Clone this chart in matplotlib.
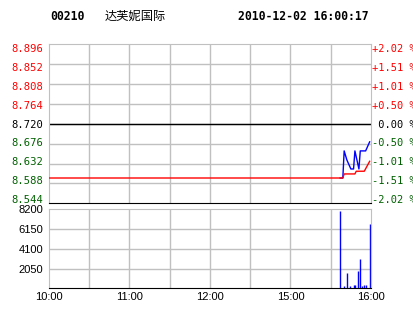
import matplotlib
matplotlib.use("Agg")
import matplotlib.pyplot as plt
import matplotlib.transforms as mtransforms
import numpy as np

# session minutes: 0 = 10:00, 150 = 12:30 / 14:30 (lunch break skipped), 240 = 16:00
code = "00210"
name = "达芙妮国际"
stamp = "2010-12-02 16:00:17"
prev_close = 8.720

# trade price only exists from the first trade on
price_min = [217, 219, 220, 222, 225, 227, 228, 231, 232, 236, 239]
price_val = [8.60, 8.60, 8.66, 8.64, 8.62, 8.62, 8.66, 8.62, 8.66, 8.66, 8.68]

avg_min = [0, 219, 220, 228, 229, 235, 239]
avg_val = [8.600, 8.600, 8.609, 8.609, 8.615, 8.615, 8.637]

vol_min = [217, 220, 222, 224, 227, 228, 230, 232, 233, 235, 236, 239]
vol_val = [8000, 250, 1590, 250, 300, 380, 1800, 3040, 260, 380, 300, 6670]

price_ticks = [8.544, 8.588, 8.632, 8.676, 8.720, 8.764, 8.808, 8.852, 8.896]
vol_ticks = [2050, 4100, 6150, 8200]
time_ticks = [0, 60, 120, 180, 240]
time_labels = ["10:00", "11:00", "12:00", "15:00", "16:00"]

RED = "#FF0000"
GREEN = "#006000"
GRID = "#C0C0C0"
BLUE = "#0000FF"
mono = "DejaVu Sans Mono"

fig = plt.figure(figsize=(4.14, 3.14), dpi=100)
fig.patch.set_facecolor("white")

# header
fig.text(50 / 414, 1 - 16 / 314, code, family=mono, fontweight="bold", fontsize=8.3, va="center")
fig.text(105 / 414, 1 - 16 / 314, name, family=["Noto Sans CJK SC", "DejaVu Sans"], fontsize=8.8, va="center")
fig.text(238 / 414, 1 - 16 / 314, stamp, family=mono, fontweight="bold", fontsize=8.3, va="center")

# price panel
ax = fig.add_axes([49 / 414, 1 - 203.3 / 314, 322 / 414, 159 / 314])
ax.set_xlim(0, 240)
ax.set_ylim(price_ticks[0], price_ticks[-1])
for t in range(30, 240, 30):
    ax.axvline(t, color=GRID, lw=1)
for p in price_ticks[1:-1]:
    ax.axhline(p, color=GRID, lw=1)
ax.axhline(prev_close, color="black", lw=1)
ax.plot(price_min, price_val, color=BLUE, lw=1, zorder=3)
ax.plot(avg_min, avg_val, color=RED, lw=1, zorder=4)
for s in ["top", "left", "right"]:
    ax.spines[s].set_color(GRID)
ax.spines["bottom"].set_color("black")
ax.set_xticks([])
ax.set_yticks(price_ticks)
ax.set_yticklabels(["%.3f" % p for p in price_ticks], family=mono, fontsize=7.6)
ax.tick_params(axis="y", length=0, pad=4)


def label_color(p):
    if p > prev_close + 1e-9:
        return RED
    if p < prev_close - 1e-9:
        return GREEN
    return "black"


def squeeze(labels):
    # labels sit slightly inside the panel: bottom one up, top one down
    n = len(labels)
    for i, lab in enumerate(labels):
        dy = (4 - i * 7.4 / (n - 1)) / 100
        lab.set_transform(lab.get_transform() + mtransforms.ScaledTranslation(0, dy, fig.dpi_scale_trans))


for lab, p in zip(ax.get_yticklabels(), price_ticks):
    lab.set_color(label_color(p))
squeeze(ax.get_yticklabels())

ax2 = ax.twinx()
ax2.set_ylim(ax.get_ylim())
ax2.set_yticks(price_ticks)
pct_labels = []
for p in price_ticks:
    pct = (p - prev_close) / prev_close * 100
    if abs(pct) < 1e-9:
        pct_labels.append(" 0.00 %")
    else:
        pct_labels.append("%+.2f %%" % pct)
ax2.set_yticklabels(pct_labels, family=mono, fontsize=7.5)
ax2.tick_params(axis="y", length=0, pad=0.5)
for lab, p in zip(ax2.get_yticklabels(), price_ticks):
    lab.set_color(label_color(p))
squeeze(ax2.get_yticklabels())
for s in ax2.spines.values():
    s.set_visible(False)

# volume panel
axv = fig.add_axes([49 / 414, 1 - 288.3 / 314, 322 / 414, 79 / 314])
axv.set_xlim(0, 240)
axv.set_ylim(0, 8200)
for t in range(30, 240, 30):
    axv.axvline(t, color=GRID, lw=1)
for v in vol_ticks[:-1]:
    axv.axhline(v, color=GRID, lw=1)
axv.vlines(vol_min, 0, vol_val, color=BLUE, lw=1)
for s in ["top", "left", "right"]:
    axv.spines[s].set_color(GRID)
axv.spines["bottom"].set_color("black")
axv.set_yticks(vol_ticks)
axv.set_yticklabels([str(v) for v in vol_ticks], family="Liberation Sans", fontsize=8)
axv.tick_params(axis="y", length=0, pad=4)
axv.set_xticks(time_ticks)
axv.set_xticklabels(time_labels, family="Liberation Sans", fontsize=8)
axv.tick_params(axis="x", length=0, pad=3)

fig.savefig("out.png", dpi=100)
